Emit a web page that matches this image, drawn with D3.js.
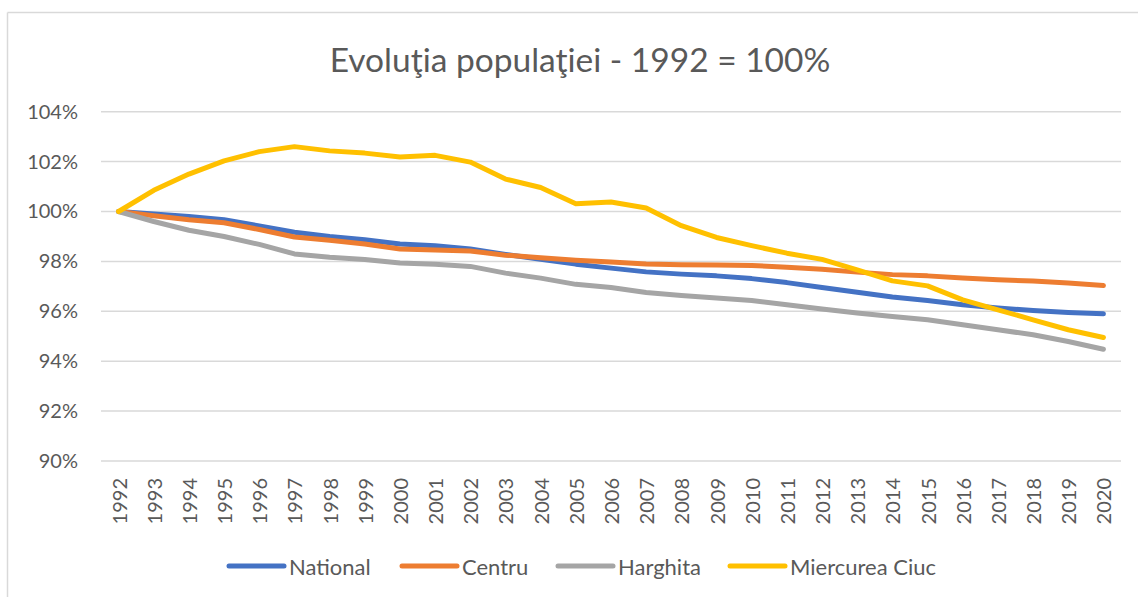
<!DOCTYPE html>
<html>
<head>
<meta charset="utf-8">
<script src="https://cdn.jsdelivr.net/npm/d3@7"></script>
<style>
  html, body { margin: 0; padding: 0; background: #fff; }
  svg { display: block; font-family: Lato, "Open Sans", sans-serif; }
</style>
</head>
<body>
<svg id="chart" width="1138" height="597"></svg>
<script>
const years = ["1992","1993","1994","1995","1996","1997","1998","1999","2000","2001","2002","2003","2004","2005","2006","2007","2008","2009","2010","2011","2012","2013","2014","2015","2016","2017","2018","2019","2020"];
const national = [100, 99.9, 99.8, 99.67, 99.42, 99.17, 99.0, 98.87, 98.7, 98.63, 98.5, 98.28, 98.09, 97.89, 97.73, 97.58, 97.49, 97.42, 97.31, 97.15, 96.95, 96.76, 96.57, 96.43, 96.26, 96.13, 96.03, 95.95, 95.9];
const centru = [100, 99.83, 99.67, 99.55, 99.28, 98.98, 98.85, 98.7, 98.5, 98.46, 98.42, 98.25, 98.15, 98.05, 97.98, 97.9, 97.87, 97.86, 97.84, 97.77, 97.69, 97.57, 97.47, 97.42, 97.33, 97.26, 97.21, 97.13, 97.03];
const harghita = [100, 99.6, 99.25, 99.0, 98.68, 98.3, 98.17, 98.08, 97.94, 97.89, 97.8, 97.53, 97.33, 97.08, 96.95, 96.75, 96.63, 96.53, 96.43, 96.26, 96.09, 95.93, 95.79, 95.66, 95.46, 95.26, 95.06, 94.79, 94.48];
const miercureaCiuc = [100, 100.85, 101.5, 102.03, 102.4, 102.6, 102.43, 102.34, 102.18, 102.25, 101.98, 101.3, 100.96, 100.31, 100.38, 100.14, 99.43, 98.96, 98.63, 98.33, 98.08, 97.66, 97.22, 97.02, 96.46, 96.06, 95.66, 95.26, 94.95];
const seriesNames = ["National", "Centru", "Harghita", "Miercurea Ciuc"];
const seriesColors = ["#4472C4", "#ED7D31", "#A5A5A5", "#FFC000"];
const yTicks = [90, 92, 94, 96, 98, 100, 102, 104];
const title = "Evoluţia populaţiei - 1992 = 100%";

const series = [national, centru, harghita, miercureaCiuc].map((vals, i) => ({
  name: seriesNames[i], color: seriesColors[i], values: vals
}));

const svg = d3.select("#chart");
const plot = { left: 101, right: 1121, top: 111.7, bottom: 461 };

// chart border (top and left visible)
svg.append("line").attr("x1", 7.5).attr("x2", 1138).attr("y1", 12.5).attr("y2", 12.5)
  .attr("stroke", "#d9d9d9").attr("stroke-width", 1.5);
svg.append("line").attr("x1", 7.5).attr("x2", 7.5).attr("y1", 12.5).attr("y2", 597)
  .attr("stroke", "#d9d9d9").attr("stroke-width", 1.5);

const x = d3.scaleBand().domain(years).range([plot.left, plot.right]);
const y = d3.scaleLinear().domain([90, 104]).range([plot.bottom, plot.top]);

// gridlines
svg.append("g").selectAll("line").data(yTicks).join("line")
  .attr("x1", plot.left).attr("x2", plot.right)
  .attr("y1", d => y(d)).attr("y2", d => y(d))
  .attr("stroke", "#d9d9d9").attr("stroke-width", 1.5);

// y axis labels
const yAxis = d3.axisLeft(y).tickValues(yTicks).tickFormat(d => d + "%").tickSize(0).tickPadding(0);
const gy = svg.append("g").attr("transform", `translate(78,0)`).call(yAxis);
gy.select(".domain").remove();
gy.selectAll("text").attr("fill", "#595959").style("font-size", "20px").style("font-family", "Lato, sans-serif");

// x axis labels
const xAxis = d3.axisBottom(x).tickSize(0).tickPadding(0);
const gx = svg.append("g").attr("transform", `translate(0,${plot.bottom})`).call(xAxis);
gx.select(".domain").remove();
gx.selectAll("text")
  .attr("fill", "#595959").style("font-size", "20px").style("font-family", "Lato, sans-serif")
  .attr("text-anchor", "end").attr("dy", null).attr("y", null)
  .attr("transform", "translate(0,17) rotate(-90)")
  .attr("dominant-baseline", "central");

// lines
const line = d3.line()
  .x((d, i) => x(years[i]) + x.bandwidth() / 2)
  .y(d => y(d));
svg.append("g").selectAll("path").data(series).join("path")
  .attr("d", d => line(d.values))
  .attr("fill", "none")
  .attr("stroke", d => d.color)
  .attr("stroke-width", 5)
  .attr("stroke-linecap", "round")
  .attr("stroke-linejoin", "round");

// title
svg.append("text").attr("x", 580).attr("y", 72).attr("text-anchor", "middle")
  .attr("fill", "#595959").style("font-size", "33.5px").text(title);

// legend
const legendX = [229, 402, 558, 730];
const lg = svg.append("g").selectAll("g").data(series).join("g")
  .attr("transform", (d, i) => `translate(${legendX[i]},566)`);
lg.append("line").attr("x1", 0).attr("x2", 55).attr("y1", 0).attr("y2", 0)
  .attr("stroke", d => d.color).attr("stroke-width", 5).attr("stroke-linecap", "round");
lg.append("text").attr("x", 60).attr("y", 0).attr("dominant-baseline", "central")
  .attr("fill", "#595959").style("font-size", "22px").text(d => d.name);
</script>
</body>
</html>
